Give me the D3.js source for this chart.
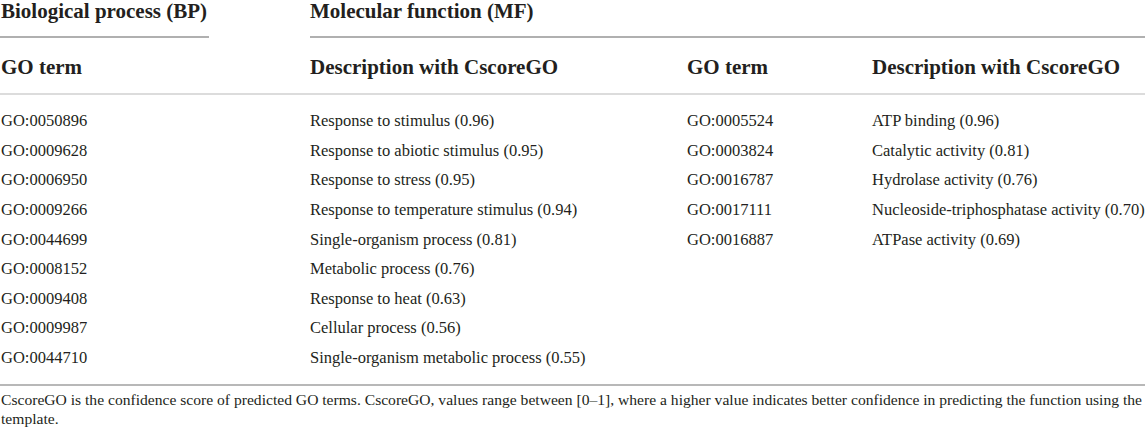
<!DOCTYPE html>
<html>
<head>
<meta charset="utf-8">
<script src="https://cdn.jsdelivr.net/npm/d3@7"></script>
<style>
  body { margin: 0; background: #fff; }
  text { font-family: "Liberation Serif", "DejaVu Serif", serif; fill: #231f20; }
  .head { font-weight: bold; font-size: 21px; }
  .cell { font-size: 16.5px; }
  .note { font-size: 15.6px; }
</style>
</head>
<body>
<script>
var width = 1145, height = 431;

// Biological process (BP)
var bpTerms = ["GO:0050896", "GO:0009628", "GO:0006950", "GO:0009266", "GO:0044699",
               "GO:0008152", "GO:0009408", "GO:0009987", "GO:0044710"];
var bpDescriptions = ["Response to stimulus", "Response to abiotic stimulus", "Response to stress",
                      "Response to temperature stimulus", "Single-organism process", "Metabolic process",
                      "Response to heat", "Cellular process", "Single-organism metabolic process"];
var bpScores = [0.96, 0.95, 0.95, 0.94, 0.81, 0.76, 0.63, 0.56, 0.55];

// Molecular function (MF)
var mfTerms = ["GO:0005524", "GO:0003824", "GO:0016787", "GO:0017111", "GO:0016887"];
var mfDescriptions = ["ATP binding", "Catalytic activity", "Hydrolase activity",
                      "Nucleoside-triphosphatase activity", "ATPase activity"];
var mfScores = [0.96, 0.81, 0.76, 0.70, 0.69];

var groupHeaders = ["Biological process (BP)", "Molecular function (MF)"];
var columnHeaders = ["GO term", "Description with CscoreGO", "GO term", "Description with CscoreGO"];
var footnote = ["CscoreGO is the confidence score of predicted GO terms. CscoreGO, values range between [0\u20131], where a higher value indicates better confidence in predicting the function using the",
                "template."];

var svg = d3.select("body")
            .append("svg")
            .attr("width", width)
            .attr("height", height);

// column positions
var x = d3.scaleOrdinal()
          .domain(["bpTerm", "bpDesc", "mfTerm", "mfDesc"])
          .range([1, 310, 687, 872]);

// row positions (baselines)
var y = d3.scalePoint()
          .domain(d3.range(bpTerms.length))
          .range([126, 363]);

function rule(x1, x2, yy, color, w) {
    svg.append("line")
       .attr("x1", x1).attr("x2", x2)
       .attr("y1", yy).attr("y2", yy)
       .attr("stroke", color)
       .attr("stroke-width", w);
}

// group headers
svg.selectAll("text.group")
   .data(groupHeaders).enter()
   .append("text")
   .attr("class", "head group")
   .attr("x", (d, i) => i == 0 ? x("bpTerm") : x("bpDesc"))
   .attr("y", 18)
   .text(d => d);

rule(0, 209, 37, "#b0b0b0", 2);
rule(310, width, 37, "#b0b0b0", 2);

// column headers
svg.selectAll("text.colhead")
   .data(columnHeaders).enter()
   .append("text")
   .attr("class", "head colhead")
   .attr("x", (d, i) => x(x.domain()[i]))
   .attr("y", 74)
   .text(d => d);

rule(0, width, 94, "#d0d0d0", 1.5);

// BP rows
svg.selectAll("text.bpTerm")
   .data(bpTerms).enter()
   .append("text")
   .attr("class", "cell bpTerm")
   .attr("x", x("bpTerm"))
   .attr("y", (d, i) => y(i))
   .text(d => d);

svg.selectAll("text.bpDesc")
   .data(bpDescriptions).enter()
   .append("text")
   .attr("class", "cell bpDesc")
   .attr("x", x("bpDesc"))
   .attr("y", (d, i) => y(i))
   .text((d, i) => d + " (" + bpScores[i].toFixed(2) + ")");

// MF rows
svg.selectAll("text.mfTerm")
   .data(mfTerms).enter()
   .append("text")
   .attr("class", "cell mfTerm")
   .attr("x", x("mfTerm"))
   .attr("y", (d, i) => y(i))
   .text(d => d);

svg.selectAll("text.mfDesc")
   .data(mfDescriptions).enter()
   .append("text")
   .attr("class", "cell mfDesc")
   .attr("x", x("mfDesc"))
   .attr("y", (d, i) => y(i))
   .text((d, i) => d + " (" + mfScores[i].toFixed(2) + ")");

rule(0, width, 385, "#a0a0a0", 1.5);

// footnote
svg.selectAll("text.note")
   .data(footnote).enter()
   .append("text")
   .attr("class", "note")
   .attr("x", 1)
   .attr("y", (d, i) => 405 + i * 19)
   .text(d => d);
</script>
</body>
</html>
